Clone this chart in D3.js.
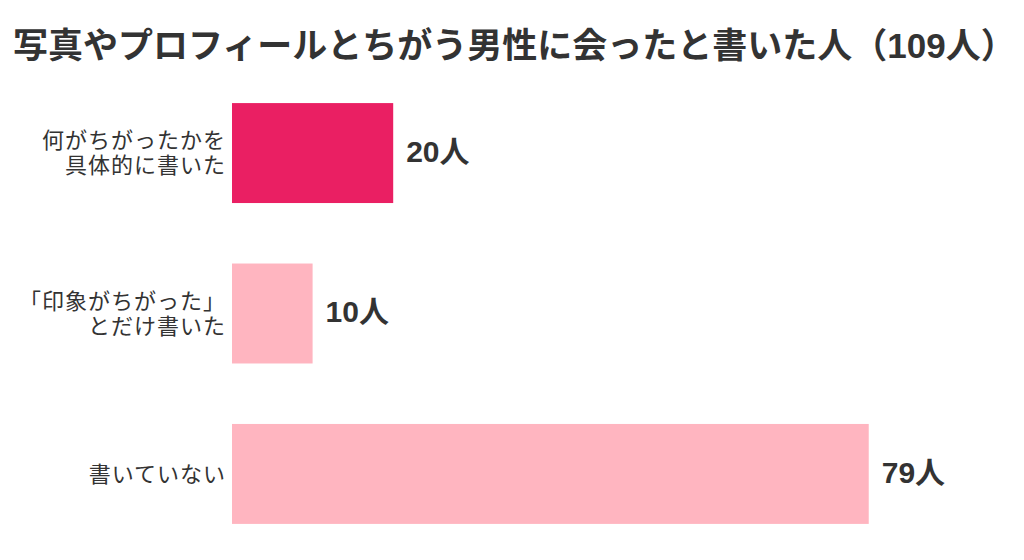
<!DOCTYPE html>
<html>
<head>
<meta charset="utf-8">
<script src="https://cdn.jsdelivr.net/npm/d3@7"></script>
<style>
  body { margin: 0; background: #fff; }
  svg { display: block; font-family: "Liberation Sans", "Noto Sans CJK JP", sans-serif; }
</style>
</head>
<body>
<div id="chart"></div>
<script>
const WIDTH = 1024;
const HEIGHT = 560;

const title = "写真やプロフィールとちがう男性に会ったと書いた人（109人）";
const categories = ["具体的", "印象", "書いていない"];
const categoryLines = [
  ["何がちがったかを", "具体的に書いた"],
  ["「印象がちがった」", "とだけ書いた"],
  ["書いていない"],
];
const counts = [20, 10, 79];
const barColors = ["#ea1f63", "#ffb5c0", "#ffb5c0"];

const x = d3.scaleLinear().domain([0, 100]).range([232, 1038]);
const y = d3.scaleBand()
  .domain(categories)
  .range([71, 556])
  .paddingInner(0.377)
  .paddingOuter(0.2);

const svg = d3.select("#chart")
  .append("svg")
  .attr("width", WIDTH)
  .attr("height", HEIGHT);

svg.append("text")
  .attr("x", 13)
  .attr("y", 58)
  .attr("font-size", 35)
  .attr("font-weight", "bold")
  .attr("fill", "#333")
  .text(title);

const rows = svg.append("g")
  .selectAll("g")
  .data(categories.map((c, i) => ({ key: c, lines: categoryLines[i], value: counts[i], color: barColors[i] })))
  .join("g");

rows.append("rect")
  .attr("x", x(0))
  .attr("y", (d) => y(d.key))
  .attr("width", (d) => x(d.value) - x(0))
  .attr("height", y.bandwidth())
  .attr("fill", (d) => d.color);

// category labels, right aligned next to the bar
rows.append("text")
  .attr("text-anchor", "end")
  .attr("font-size", 22)
  .attr("letter-spacing", 1)
  .attr("fill", "#333")
  .each(function (d) {
    const cy = y(d.key) + y.bandwidth() / 2;
    const lineH = 25;
    const top = cy - ((d.lines.length - 1) * lineH) / 2;
    d3.select(this)
      .selectAll("tspan")
      .data(d.lines)
      .join("tspan")
      .attr("x", 226)
      .attr("y", (l, i) => top + i * lineH)
      .attr("dy", "0.36em")
      .text((l) => l);
  });

rows.append("text")
  .attr("x", (d) => x(d.value) + 13)
  .attr("y", (d) => y(d.key) + y.bandwidth() / 2 - 2)
  .attr("dy", "0.36em")
  .attr("font-size", 30)
  .attr("font-weight", "bold")
  .attr("fill", "#333")
  .text((d) => d.value + "人");
</script>
</body>
</html>
